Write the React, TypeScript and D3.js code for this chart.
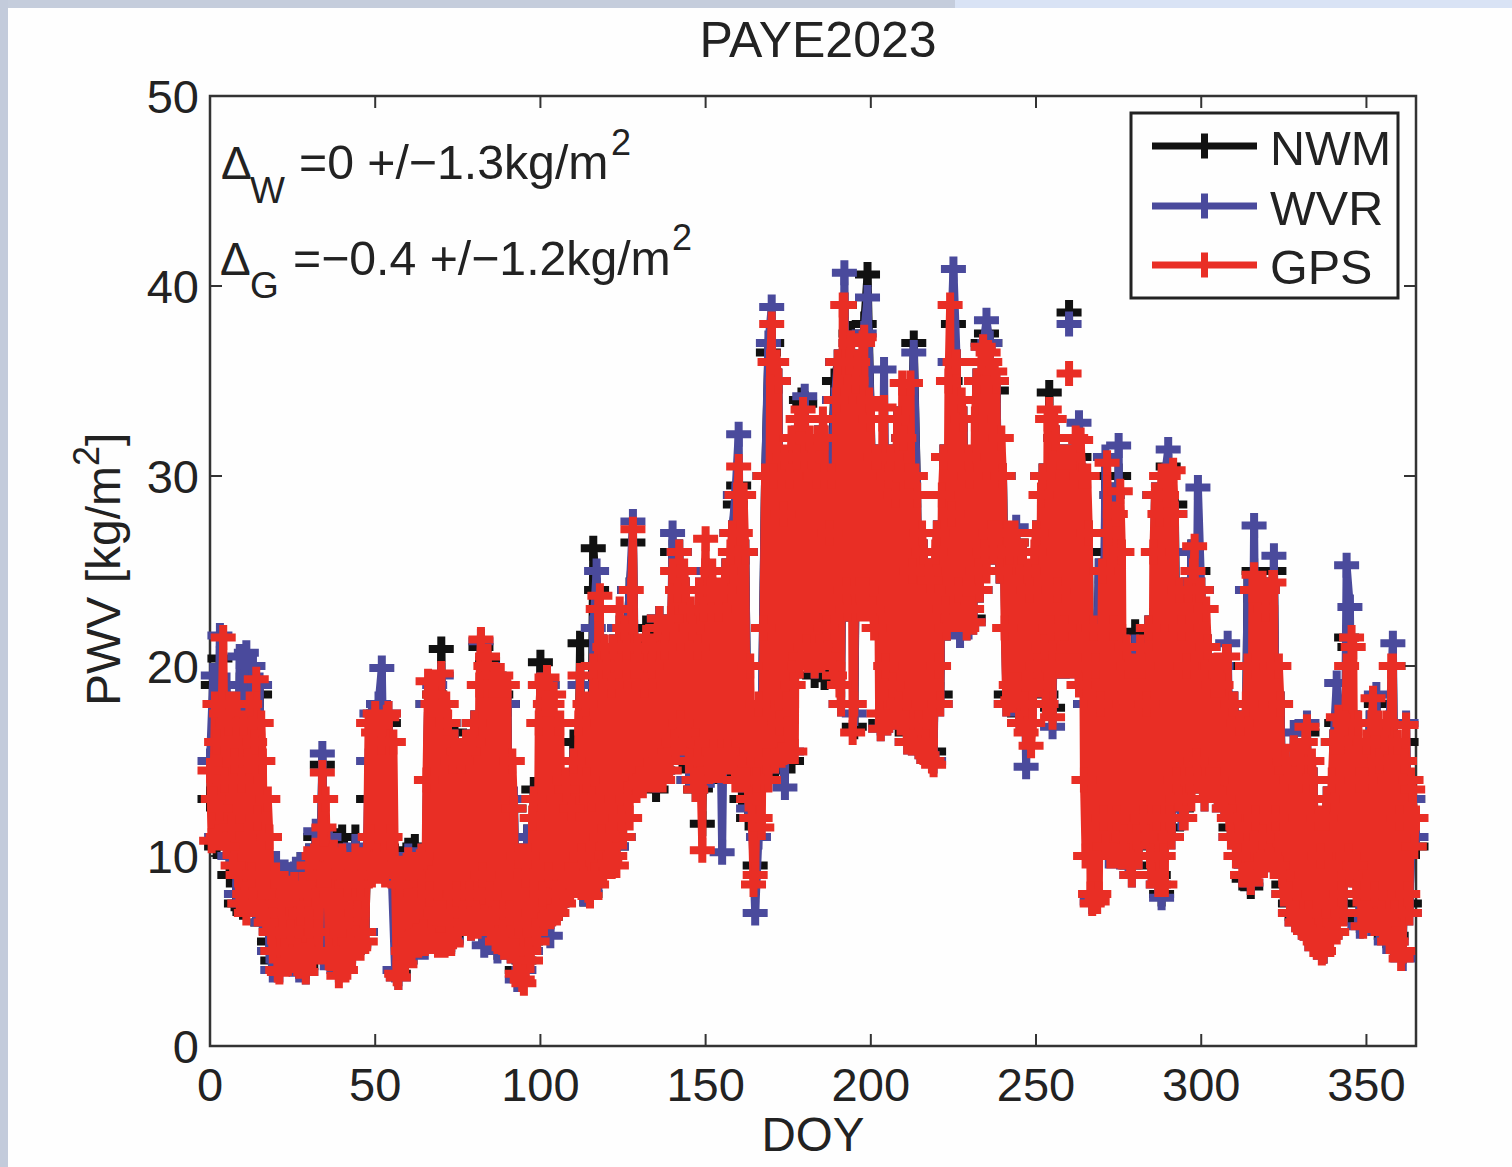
import React from "react";
import * as d3 from "d3";

const title = "PAYE2023";
const xTicks = [0, 50, 100, 150, 200, 250, 300, 350];
const yTicks = [0, 10, 20, 30, 40, 50];
const lastDoy = 365;

// one value per DOY
const nwm = [
  13,19,10.5,20.4,11,18,9,17,7.5,19,
  7.3,19,7.5,19,7,18.5,6.5,10,5.5,4.5,
  9,4.5,8.5,4.8,9,4.5,8.8,4.2,9,4.2,
  10,5,11,6,14.8,5.2,10.5,4.5,10.8,4.5,
  11,5.2,10,5,11,5.4,10,6,13,17,
  9.3,17.5,17,9.2,17,9,10,3.8,9,4.5,
  10.3,5.5,10.5,5.5,10,5.5,18,5.6,18.5,6.5,
  20.9,5.5,17,5.6,16.5,6.2,15.5,6.6,16,6.3,
  17,6.5,21,6,20.3,5.5,19.5,5.2,18.5,5.5,
  18,5.2,12.5,4,10,4.5,11,5.5,13.5,6,
  20.2,7,19,6.8,16,7.5,13,8,13,8.5,
  16,8.5,21.2,8,13,8,26.2,24,9,21,
  20,10,21,10.5,22,11,21,24,26.5,14.3,
  21,14,22,14,22,13.5,22.5,14.5,22,15,
  26,15.5,26,15,24,14,22,13.5,23,11.7,
  25,14,24,14.5,23,14.5,25,14.5,27,28.5,
  29.5,13,26,12,12,9.5,12,17,30,36.5,
  37,14.5,35,15,17,30,15,31,20,34,
  33.8,20,31,19.5,32,19.8,19.4,20,30,35,
  36,19,39,23,37.5,16.8,36,24,38,40.6,
  33,23,31,17,33,17.5,31,17.5,33,33,
  32,16.5,30,37,29,16,26,15.5,25,15.5,
  27,18.5,31,22,35,38,36,22.5,33,22.5,
  30,22.5,35,24,37,37.5,37,26,34.5,25,
  30,18.5,26,18.5,26.5,17.5,26,18,24,18.5,
  27,19.5,30,18.5,34.4,17.8,32,20,31,20,
  31,20.5,29,31,30,18,26,8,17,25,
  11,30,10.5,29,10.5,30,10.3,21,10,9.5,
  21.8,10.5,20,11,22,9.5,29,9,8,29,
  30.5,11.5,28.5,13,12.5,24,13.5,26,14.5,25,
  24,13.5,21,14,20,13.5,20,13,20,11.5,
  18,10,17,8.8,24,8.4,25,10,24,10,
  24,10.2,25,10,18,8.5,14.5,7.5,15,6.8,
  15,6.5,16.5,6,14,5.5,10,5,13,6,
  16,17,16,7.5,21.5,21,9.5,17,6.6,14,
  7,17,6.8,18,6.2,16,5.8,17,20,5.8,
  12,5,16,7.5,13,10.5,
];

const wvr = [
  15,19.5,11,21.6,12,19,10,18,8,20.5,
  7.5,20.7,8,20,7,19,6.5,11,5,4,
  9.6,4,9,4.5,9,4.3,9.3,4,9.5,3.9,
  10,5,11.3,5.5,15.4,5,11,4.2,10,4,
  10,5,10,5,10.5,5.3,10,6,15,17.5,
  9.5,18,19.9,9.5,17.5,9,4,3.6,9,4.5,
  10,5,9.8,5.2,10,5.2,18,5.5,19,6,
  19.5,5.5,17,5.5,16,6,15,6.5,16,6.2,
  17,6.5,21.3,5.3,20,5.5,19,5,18,5.2,
  18,5,13,3.5,10,4,11,5,13,5.8,
  19,7,19,5.8,15,7.5,13,8,12.5,8.5,
  15,8.8,19,8,13,8.3,22,25,9,21,
  20,10,21,10.5,22,11,21,24,27.6,14,
  20,14,21,14.2,21,14,22.5,14.5,22,15,
  27,15.5,26,15.5,24,14,22,14,24,13.8,
  25,15,24,15,23,10.2,25,15,27,29,
  32.2,14,26,12.5,12,7,11,18,30,37,
  38.9,15,35,15.5,13.6,30,15.5,32,20.5,33,
  34.2,20.3,31,20,32,20.3,32,20.5,30,34,
  36,18,40.7,23,37,17.5,36,24,37.5,39.4,
  33,23,31,16.7,35.6,17,31,17.3,33,33,
  32,16,30,36.5,29,15.5,26,15.3,25,15,
  27,18,31,22,36,40.9,36,21.6,33,22,
  30,22.3,35,24,36.8,38.2,37,26,35,25,
  30,18,26,18,27.3,17,26,14.7,24,18,
  27,19,30,18,33,16.8,32,20,31,20,
  31,20,30,32.8,30,18,27,7.6,17,25,
  10.5,31,10,29,10,31.6,10,21,9.5,9,
  21,10,20,11,22,9,29,8.5,7.8,30,
  31.4,11,28,13,12,24,13,26,14,29.4,
  24,13,21,13.5,20,13,20,12.5,21.2,11,
  18,10,17,9,24,8.6,27.4,9.5,24,9.5,
  24,9.8,25.8,9.5,18,8,14.5,7,16.5,6.5,
  15,6.2,17,5.8,14,5.2,10,5,13,5.8,
  16,19.1,16,7,25.3,23.1,9,17,6.3,14,
  6.6,17,6.5,18.5,6,16,5.5,17,21.2,5.5,
  12,4.6,17,7,13,11,
];

// two values per DOY
const gps = [
  14.5,10.8,13,18, 16,11,12.5,17.5, 21.5,14,10.5,17, 18,11.5,9.5,15, 18,9,7.5,14,
  17,8,7,15, 18,9,7.5,16, 19.3,12,7,17, 15,7,6.5,13, 11,6,5,9,
  9,4,3.9,7.5, 8.5,5,4.3,8, 8.3,6,4.5,8.5, 8,5,4.2,7, 8.5,4.8,3.9,8,
  9.5,5,4.5,10, 10.3,6,5,9, 14.4,11.5,13,9, 5,4.6,10,10.2, 9.8,4.2,3.7,9,
  10,5,4,8.5, 9.5,5.5,4.7,9, 10,7,5.2,8.5, 9.8,6,5.5,10, 17,11,9,16.5,
  17.5,10,9.2,17, 16,9.5,9,17.3, 17.5,11,9.5,16, 9,3.8,3.6,8.5, 9.3,5,4.3,9.5,
  9.8,5.5,5,9, 9.5,5.8,5.3,9.7, 10,6,5.4,14, 19.2,8,5.5,18, 18.5,7,5.3,17.5,
  19.6,7,5.3,18, 17,6.5,5.4,15, 16,8,6,15.5, 15,7,6.5,16, 15.5,8,6.2,16,
  17,7,6.3,19, 21.4,9,6.8,20, 20.5,8,6,19, 19.5,7,5.5,19, 19.5,6,5.2,19,
  19,7,5,15, 12.5,5,3.8,10, 10,3.5,3.3,9, 10,5,4.5,12, 13,6,5.5,17,
  19,8,6.5,18, 19.4,9,6.8,18, 18.5,8,7,17, 17,8.5,7.5,14, 13.5,9,8,12.5,
  15,9,8.5,17, 19.5,10,8.8,18, 14,8.2,7.9,13, 20,9,8.5,23, 23.7,11,9,21,
  20,10.5,9.6,19, 21,10,9.5,20, 23,12,11,22, 21,13,12,24, 27.2,20,13.7,21,
  20,14,13.7,19, 21.5,14.5,14,20, 21,14.2,14,22, 22.5,15,14,21, 22,15,14.5,22.5,
  25,16,15.5,24, 26,17,16,25, 24,16.5,15,23, 22,14,13.5,21, 24,14,10.3,23,
  26.7,15,14.5,24, 25,15.5,14.5,24, 23,15,14.5,24, 25,15.5,15,26, 27,15,14,29,
  30.5,27,14,29, 26,14,13,20, 12,8.5,9,14, 18,12,11.5,22, 30,15,14,36,
  38,30,15,36, 35,17,15.3,28, 31,18,15.5,30, 32,19,15.5,31, 33,20,20.5,33.5,
  33,21,20.3,32, 31,20.5,20,30, 32,21,20.3,33, 32,22,20.5,27, 30,20,19.5,34,
  36,19,18,39, 39,24,23,36, 37,16.5,18,35, 36,24,23,37, 37.3,24,23,34,
  33,23,22,31, 31,17.5,16.7,33, 33.6,20,17,30, 31,19,17.3,29, 33,18,17,34.9,
  32,17,16,30, 34.9,25,16,30, 29,17,15.5,27, 26,16,15.3,25, 24.5,15,14.8,26,
  27,20,18,29, 31,23,22,35, 39,28,22.5,36, 36,24,22.5,34, 33,23,22,31,
  30,23,22.3,33, 35,25,24,36, 36.8,26,25,36.5, 36,27,26,35.5, 35,27,25,32,
  30,22,18,27, 26,19,18.2,27, 26.5,19,17,26, 26,18,16.5,25, 24,15.8,17,26,
  27,20,19,29, 30,21,18,33, 33.5,22,17.3,33, 32,24,20,31, 31,22,20,31,
  31,20,31,20, 32,20,19,31.9, 30,14,10,30, 27,8,7.5,22, 20,7.6,8,18,
  25,12,10.5,30.7, 27,10,10,22, 28,12,10,29.2, 26,11,10,21, 20,9.5,9,20,
  20,11,10,21, 20,12,11,18, 22,10,9,26, 29,12,8.5,28, 30,10,8.5,29,
  30,12,11,30.3, 28,14,13,24, 22,12,12,20, 24,14,13,25, 26.3,15,14,24,
  24,13.5,13,23, 21,14,13.5,20, 19,14,13,20, 19,13,12.5,20.5, 20.5,12,11,18,
  18,10,10,17, 17,9,9,18, 20,9,8.6,24, 24.8,12,9.5,24, 24,11,9.5,23,
  24,10,9.8,24.4, 24.4,12,9.5,20, 18,9,8,15, 14.5,8,7,14, 15.7,7,6.5,14,
  15,6.5,6.2,16, 16.8,7,5.8,15, 14,5.5,5.2,12, 10,4.9,5,12, 13,6,5.8,14,
  16,6.5,6,17.3, 16,8,7,17, 20,10,9,21.5, 21,9.5,8,17, 14,7,6.3,14,
  16,7,6.6,17, 18.3,8,6.5,17, 15,7,6,16, 17,6.5,5.5,20, 20,7,5.5,16,
  12,4.6,5,15, 16.9,8,7,14, 13.5,10.5,12,
];

// markers that float free of their line around DOY 260
const isolatedDoy = [260];
const nwmIsolated = [38.6];
const wvrIsolated = [38];
const gpsIsolated = [35.4];

const series = [
  { name: "NWM", values: nwm, step: 1, isolated: nwmIsolated, color: "#111111" },
  { name: "WVR", values: wvr, step: 1, isolated: wvrIsolated, color: "#4a4a9c" },
  { name: "GPS", values: gps, step: 0.5, isolated: gpsIsolated, color: "#e92e25" },
];

const width = 1512;
const height = 1167;
const font = "'Liberation Sans', Arial, sans-serif";
const ink = "#222222";
const left = 210;
const right = 1416;
const top = 96;
const bottom = 1046;
const tickLen = 12;
const armLen = 12.5;
const lineW = 8;

const x = d3.scaleLinear().domain([0, lastDoy]).range([left, right]);
const y = d3.scaleLinear().domain([0, 50]).range([bottom, top]);

function plusPath(cx: number, cy: number) {
  return `M${cx - armLen},${cy}H${cx + armLen}M${cx},${cy - armLen}V${cy + armLen}`;
}

function SeriesMarks({ s }: { s: (typeof series)[number] }) {
  const pts = s.values.map((v, i) => ({ doy: i * s.step, v }));
  const line = d3
    .line<{ doy: number; v: number }>()
    .x((d) => x(d.doy))
    .y((d) => y(d.v));
  const marks = pts.map((d) => plusPath(x(d.doy), y(d.v))).join("");
  const extra = s.isolated.map((v, i) => plusPath(x(isolatedDoy[i]), y(v))).join("");
  return (
    <g fill="none" stroke={s.color} strokeWidth={lineW}>
      <path d={line(pts) || ""} strokeLinejoin="round" />
      <path d={marks + extra} />
    </g>
  );
}

export default function App() {
  const legendY = [146, 206, 265];
  return (
    <svg
      width={width}
      height={height}
      style={{ position: "fixed", left: 0, top: 0, display: "block" }}
      fontFamily={font}
      fill={ink}
    >
      <rect width={width} height={height} fill="#fefefe" />
      <rect width={955} height={8} fill="#c5cddc" />
      <rect x={955} width={width - 955} height={8} fill="#d9e3f5" />
      <rect width={8} height={height} fill="#c3cbdb" />

      <text x={818} y={57} fontSize={50} textAnchor="middle">{title}</text>

      <rect x={left} y={top} width={right - left} height={bottom - top} fill="none" stroke="#333" strokeWidth={2.5} />
      {xTicks.map((t) => (
        <g key={t} stroke="#333" strokeWidth={2}>
          <line x1={x(t)} x2={x(t)} y1={bottom} y2={bottom - tickLen} />
          <line x1={x(t)} x2={x(t)} y1={top} y2={top + tickLen} />
        </g>
      ))}
      {yTicks.map((t) => (
        <g key={t} stroke="#333" strokeWidth={2}>
          <line x1={left} x2={left + tickLen} y1={y(t)} y2={y(t)} />
          <line x1={right} x2={right - tickLen} y1={y(t)} y2={y(t)} />
        </g>
      ))}

      {series.map((s) => (
        <SeriesMarks key={s.name} s={s} />
      ))}

      <g fontSize={47}>
        {xTicks.map((t) => (
          <text key={t} x={x(t)} y={1101} textAnchor="middle">{t}</text>
        ))}
        {yTicks.map((t) => (
          <text key={t} x={199} y={y(t) + 17} textAnchor="end">{t}</text>
        ))}
      </g>

      <text x={813} y={1151} fontSize={47.5} textAnchor="middle">DOY</text>
      <text transform="translate(120,706) rotate(-90)" fontSize={48}>
        PWV [kg/m
        <tspan dy={-21} fontSize={36}>2</tspan>
        <tspan dy={21}>]</tspan>
      </text>

      <g fontSize={48.2}>
        <text x={221} y={179} fontSize={46}>Δ</text>
        <text x={250} y={203} fontSize={37}>W</text>
        <text x={299} y={179}>=0 +/−1.3kg/m</text>
        <text x={611} y={155} fontSize={36}>2</text>
        <text x={220} y={275} fontSize={46}>Δ</text>
        <text x={250} y={298} fontSize={37}>G</text>
        <text x={293} y={275}>=−0.4 +/−1.2kg/m</text>
        <text x={672} y={250} fontSize={36}>2</text>
      </g>

      <rect x={1131} y={113} width={267} height={185} fill="#fefefe" stroke="#222" strokeWidth={3} />
      {series.map((s, i) => (
        <g key={s.name}>
          <path
            d={`M1152,${legendY[i]}H1257${plusPath(1204.5, legendY[i])}`}
            fill="none"
            stroke={s.color}
            strokeWidth={7}
          />
          <text x={1270} y={legendY[i] + 18.5} fontSize={48.5}>{s.name}</text>
        </g>
      ))}
    </svg>
  );
}
